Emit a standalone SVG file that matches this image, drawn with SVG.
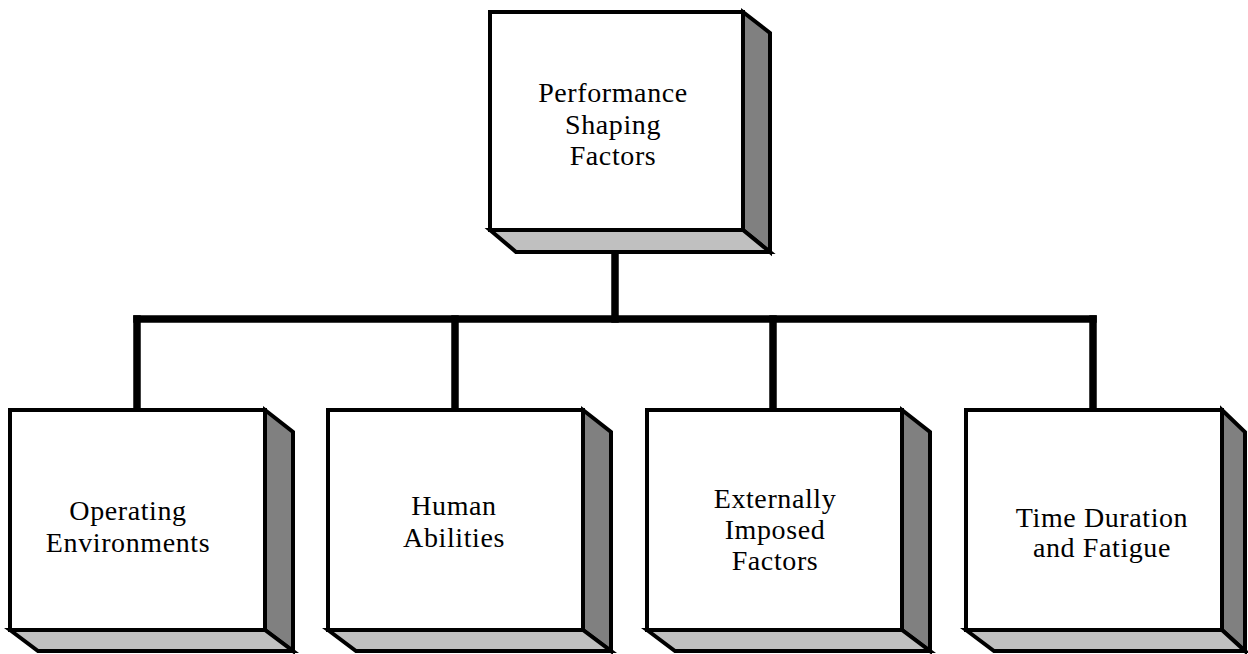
<svg xmlns="http://www.w3.org/2000/svg" width="1248" height="654" viewBox="0 0 1248 654">
<style>
.front{fill:#ffffff;stroke:#000;stroke-width:4;stroke-linejoin:miter}
.side{fill:#808080;stroke:#000;stroke-width:4;stroke-linejoin:miter}
.bottom{fill:#c0c0c0;stroke:#000;stroke-width:4;stroke-linejoin:miter}
.lbl{font-family:"Liberation Serif","Times New Roman",serif;font-size:28px;fill:#000;text-anchor:middle;letter-spacing:0.6px}
.conn{stroke:#000;stroke-width:7.5;fill:none;stroke-linecap:square}
</style>
<rect width="1248" height="654" fill="#fff"/>
<g id="connectors">
<line class="conn" x1="615" y1="254" x2="615" y2="319"/>
<line class="conn" x1="137" y1="319" x2="1093" y2="319"/>
<line class="conn" x1="137" y1="319" x2="137" y2="408"/>
<line class="conn" x1="455" y1="319" x2="455" y2="408"/>
<line class="conn" x1="773" y1="319" x2="773" y2="408"/>
<line class="conn" x1="1093" y1="319" x2="1093" y2="408"/>
</g>
<g id="node-psf">
<polygon class="side" points="743,12 770,33 770,252 743,230"/>
<polygon class="bottom" points="490,230 516,252 770,252 743,230"/>
<rect class="front" x="490" y="12" width="253" height="218"/>
<text class="lbl" x="613" y="102">Performance</text>
<text class="lbl" x="613" y="133.5">Shaping</text>
<text class="lbl" x="613" y="165">Factors</text>
</g>
<g id="node-oe">
<polygon class="side" points="265,410 293,432 293,651 265,630"/>
<polygon class="bottom" points="10,630 38,651 293,651 265,630"/>
<rect class="front" x="10" y="410" width="255" height="220"/>
<text class="lbl" x="128" y="520">Operating</text>
<text class="lbl" x="128" y="552">Environments</text>
</g>
<g id="node-ha">
<polygon class="side" points="583,410 611,432 611,651 583,630"/>
<polygon class="bottom" points="328,630 356,651 611,651 583,630"/>
<rect class="front" x="328" y="410" width="255" height="220"/>
<text class="lbl" x="454" y="515">Human</text>
<text class="lbl" x="454" y="547">Abilities</text>
</g>
<g id="node-eif">
<polygon class="side" points="902,410 930,432 930,651 902,630"/>
<polygon class="bottom" points="647,630 675,651 930,651 902,630"/>
<rect class="front" x="647" y="410" width="255" height="220"/>
<text class="lbl" x="775" y="508">Externally</text>
<text class="lbl" x="775" y="539">Imposed</text>
<text class="lbl" x="775" y="570">Factors</text>
</g>
<g id="node-tdf">
<polygon class="side" points="1222,410 1245,432 1245,651 1222,630"/>
<polygon class="bottom" points="966,630 994,651 1245,651 1222,630"/>
<rect class="front" x="966" y="410" width="256" height="220"/>
<text class="lbl" x="1102" y="527">Time Duration</text>
<text class="lbl" x="1102" y="557">and Fatigue</text>
</g>
</svg>
